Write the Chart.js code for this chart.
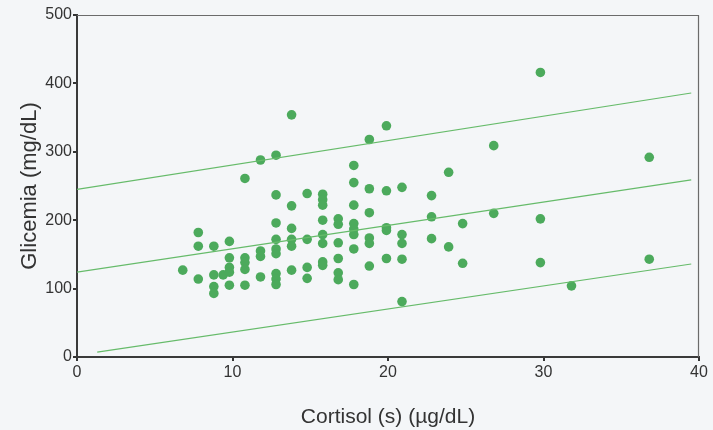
<!DOCTYPE html>
<html>
<head>
<meta charset="utf-8">
<script src="https://cdn.jsdelivr.net/npm/chart.js@4/dist/chart.umd.min.js"></script>
<style>
  html, body { margin: 0; padding: 0; background: #f4f6f8; }
  #wrap { width: 713px; height: 430px; }
</style>
</head>
<body>
<div id="wrap"><canvas id="c" width="713" height="430"></canvas></div>
<script>
// ---- data ----
const cortisolX = [
  6.8,
  7.8, 7.8, 7.8,
  8.8, 8.8, 8.8, 8.8,
  9.4,
  9.8, 9.8, 9.8, 9.8, 9.8,
  10.8, 10.8, 10.8, 10.8, 10.8,
  11.8, 11.8, 11.8, 11.8,
  12.8, 12.8, 12.8, 12.8, 12.8, 12.8, 12.8, 12.8, 12.8,
  13.8, 13.8, 13.8, 13.8, 13.8, 13.8,
  14.8, 14.8, 14.8, 14.8,
  15.8, 15.8, 15.8, 15.8, 15.8, 15.8, 15.8, 15.8,
  16.8, 16.8, 16.8, 16.8, 16.8, 16.8,
  17.8, 17.8, 17.8, 17.8, 17.8, 17.8, 17.8, 17.8,
  18.8, 18.8, 18.8, 18.8, 18.8, 18.8,
  19.9, 19.9, 19.9, 19.9, 19.9,
  20.9, 20.9, 20.9, 20.9, 20.9,
  22.8, 22.8, 22.8,
  23.9, 23.9,
  24.8, 24.8,
  26.8, 26.8,
  29.8, 29.8, 29.8,
  31.8,
  36.8, 36.8
];
const glicemiaY = [
  127,
  182, 162, 114,
  162, 120, 103, 93,
  120,
  169, 145, 131, 124, 105,
  261, 145, 138, 128, 105,
  288, 155, 147, 117,
  295, 237, 196, 172, 158, 151, 122, 114, 106,
  354, 221, 188, 172, 162, 127,
  239, 172, 131, 115,
  238, 230, 222, 200, 179, 166, 139, 134,
  202, 194, 167, 144, 123, 113,
  280, 255, 222, 195, 187, 179, 158, 106,
  318, 246, 211, 174, 166, 133,
  338, 243, 189, 185, 144,
  248, 179, 166, 143, 81,
  236, 205, 173,
  270, 161,
  195, 137,
  309, 210,
  416, 202, 138,
  104,
  292, 143
];
// regression line and prediction band endpoints
const bandX  = [0, 39.5];
const fitY   = [124, 259];
const upperY = [245, 386];
const lowerX = [1.3, 39.5];
const lowerY = [7, 136];

const xTicks = [0, 10, 20, 30, 40];
const yTicks = [0, 100, 200, 300, 400, 500];
const xTitle = 'Cortisol (s) (µg/dL)';
const yTitle = 'Glicemia (mg/dL)';

// ---- build chart ----
const toPts = (xs, ys) => xs.map((x, i) => ({ x: x, y: ys[i] }));
const lineColor = '#66bb6a';
const dotColor = '#4caa5c';
const FONT = "'Liberation Sans', Arial, sans-serif";

const framePlugin = {
  id: 'frame',
  beforeDraw(chart) {
    const ctx = chart.ctx;
    ctx.save();
    ctx.fillStyle = '#f4f6f8';
    ctx.fillRect(0, 0, chart.width, chart.height);
    ctx.restore();
  },
  afterDatasetsDraw(chart) {
    const a = chart.chartArea, ctx = chart.ctx;
    ctx.save();
    ctx.strokeStyle = '#6b6b6b';
    ctx.lineWidth = 1.2;
    ctx.beginPath();
    ctx.moveTo(a.left, a.top + 0.5);
    ctx.lineTo(a.right - 0.5, a.top + 0.5);
    ctx.lineTo(a.right - 0.5, a.bottom);
    ctx.stroke();
    ctx.restore();
  }
};

const lineDs = (data) => ({
  type: 'scatter',
  data: data,
  showLine: true,
  borderColor: lineColor,
  borderWidth: 1.2,
  pointRadius: 0,
  pointHoverRadius: 0,
  fill: false
});

new Chart(document.getElementById('c'), {
  type: 'scatter',
  data: {
    datasets: [
      lineDs(toPts(bandX, upperY)),
      lineDs(toPts(bandX, fitY)),
      lineDs(toPts(lowerX, lowerY)),
      {
        type: 'scatter',
        data: toPts(cortisolX, glicemiaY),
        backgroundColor: dotColor,
        borderColor: dotColor,
        borderWidth: 0,
        pointRadius: 4.8
      }
    ]
  },
  options: {
    responsive: false,
    animation: false,
    devicePixelRatio: 1,
    layout: { padding: { left: 0, right: 14, top: 15, bottom: 0 } },
    plugins: { legend: { display: false }, tooltip: { enabled: false } },
    scales: {
      x: {
        type: 'linear',
        min: 0, max: 40,
        afterBuildTicks: (s) => { s.ticks = xTicks.map(v => ({ value: v })); },
        afterFit: (s) => { s.height = 73; },
        grid: { drawOnChartArea: false, drawTicks: true, tickLength: 4, color: '#333', lineWidth: 2 },
        border: { display: true, color: '#3a3a3a', width: 2 },
        ticks: { color: '#333', font: { family: FONT, size: 16 }, padding: 2, maxRotation: 0 },
        title: { display: true, text: xTitle, color: '#333', font: { family: FONT, size: 21 }, padding: { top: 4, bottom: 0 } }
      },
      y: {
        type: 'linear',
        min: 0, max: 500,
        afterBuildTicks: (s) => { s.ticks = yTicks.map(v => ({ value: v })); },
        afterFit: (s) => { s.width = 77; },
        grid: { drawOnChartArea: false, drawTicks: true, tickLength: 4, color: '#333', lineWidth: 2 },
        border: { display: true, color: '#3a3a3a', width: 2 },
        ticks: { color: '#333', font: { family: FONT, size: 16 }, padding: 1 },
        title: { display: true, text: yTitle, color: '#333', font: { family: FONT, size: 22 }, padding: { top: 17, bottom: 0 } }
      }
    }
  },
  plugins: [framePlugin]
});
</script>
</body>
</html>
